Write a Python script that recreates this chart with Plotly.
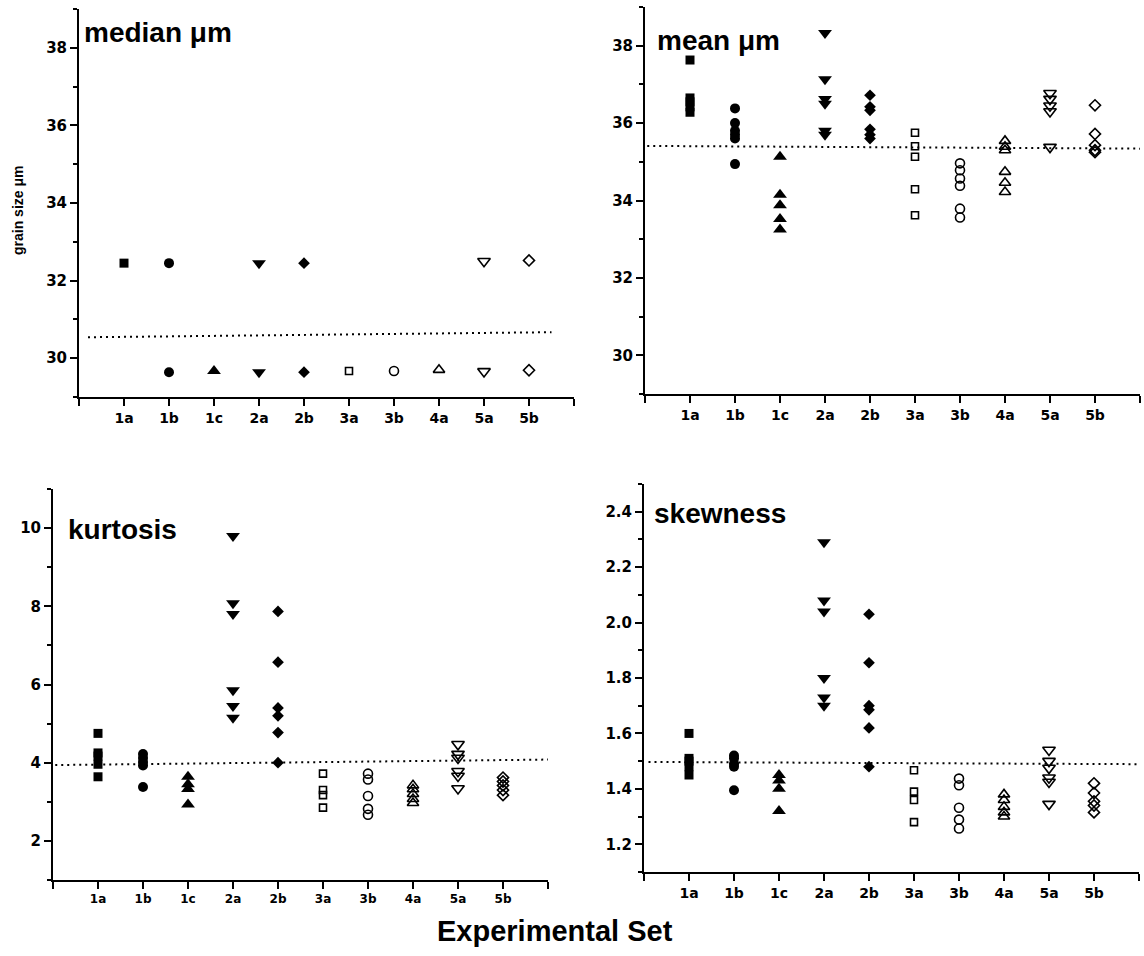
import plotly.graph_objects as go

categories = ["1a", "1b", "1c", "2a", "2b", "3a", "3b", "4a", "5a", "5b"]
symbols = ["square", "circle", "triangle-up", "triangle-down", "diamond",
           "square-open", "circle-open", "triangle-up-open", "triangle-down-open", "diamond-open"]

median_values = [
    [32.45], [32.45, 29.64], [29.67], [32.45, 29.64], [32.45, 29.64],
    [29.67], [29.67], [29.70], [32.50, 29.66], [32.52, 29.69]]
mean_values = [
    [37.63, 36.65, 36.55, 36.42, 36.28],
    [36.38, 36.00, 35.80, 35.70, 35.60, 34.94],
    [35.13, 34.15, 33.88, 33.52, 33.25],
    [38.33, 37.13, 36.62, 36.50, 35.80, 35.70],
    [36.72, 36.42, 36.33, 35.84, 35.70, 35.60],
    [35.75, 35.40, 35.13, 34.29, 33.62],
    [34.96, 34.78, 34.57, 34.38, 33.79, 33.56],
    [35.54, 35.39, 35.30, 34.74, 34.46, 34.22],
    [36.77, 36.62, 36.45, 36.30, 35.38],
    [36.46, 35.72, 35.43, 35.30, 35.25]]
kurtosis_values = [
    [4.75, 4.25, 4.17, 3.96, 3.64],
    [4.22, 4.12, 4.02, 3.93, 3.38],
    [3.64, 3.45, 3.33, 2.93],
    [9.80, 8.08, 7.80, 5.85, 5.45, 5.15],
    [7.87, 6.57, 5.40, 5.20, 4.77, 4.00],
    [3.72, 3.30, 3.17, 2.85],
    [3.72, 3.57, 3.15, 2.82, 2.67],
    [3.42, 3.32, 3.20, 3.07, 2.97],
    [4.47, 4.22, 4.12, 3.78, 3.66, 3.34],
    [3.62, 3.52, 3.42, 3.30, 3.17]]
skewness_values = [
    [1.60, 1.51, 1.50, 1.48, 1.45],
    [1.52, 1.51, 1.49, 1.48, 1.395],
    [1.45, 1.43, 1.40, 1.32],
    [2.29, 2.08, 2.04, 1.80, 1.73, 1.70],
    [2.03, 1.855, 1.70, 1.685, 1.62, 1.48],
    [1.467, 1.39, 1.36, 1.28],
    [1.437, 1.413, 1.332, 1.289, 1.257],
    [1.38, 1.36, 1.335, 1.315, 1.30],
    [1.54, 1.50, 1.475, 1.44, 1.425, 1.345],
    [1.42, 1.385, 1.355, 1.34, 1.315]]

# reference (dotted) lines: x in category units, y values at ends
median_line_x = [0.2, 10.5]
median_line_y = [30.54, 30.67]
mean_line_x = [0.05, 11.0]
mean_line_y = [35.41, 35.34]
kurtosis_line_x = [0.05, 11.0]
kurtosis_line_y = [3.94, 4.08]
skewness_line_x = [0.1, 11.0]
skewness_line_y = [1.497, 1.489]

panel_titles = ["median \u03bcm", "mean \u03bcm", "kurtosis", "skewness"]
y_ranges = [[29, 39], [29, 39], [1, 11], [1.1, 2.5]]
y_dticks = [2, 2, 2, 0.2]
y_minor = [1, 1, 1, 0.1]

W, H = 1144, 956
# pixel boxes (left, right, top, bottom)
boxes = [(79, 574, 9, 397), (645, 1140, 7, 394), (53, 548, 489, 880), (644, 1139, 484, 872)]

fig = go.Figure()
panels = [median_values, mean_values, kurtosis_values, skewness_values]
lines = [(median_line_x, median_line_y), (mean_line_x, mean_line_y),
         (kurtosis_line_x, kurtosis_line_y), (skewness_line_x, skewness_line_y)]

marker_sizes = {"square": 9, "circle": 10, "triangle-up": 12, "triangle-down": 12, "diamond": 9,
                "square-open": 7, "circle-open": 9, "triangle-up-open": 10,
                "triangle-down-open": 11, "diamond-open": 8.5}

for p, vals in enumerate(panels):
    ax = "" if p == 0 else str(p + 1)
    for i, cat in enumerate(categories):
        ys = vals[i]
        sym = symbols[i]
        openm = sym.endswith("open")
        fig.add_trace(go.Scatter(
            x=[i + 1] * len(ys), y=ys, mode="markers", name=cat, showlegend=False,
            xaxis="x" + ax, yaxis="y" + ax, cliponaxis=False,
            marker=dict(symbol=sym, size=marker_sizes[sym], color="black",
                        line=dict(color="black", width=1.6 if openm else 0))))
    lx, ly = lines[p]
    fig.add_trace(go.Scatter(x=lx, y=ly, mode="lines", showlegend=False,
                             xaxis="x" + ax, yaxis="y" + ax,
                             line=dict(color="black", width=2, dash="2px,4px")))

tickfont = dict(family="DejaVu Sans", size=15, color="black", weight="bold")
layout = dict(width=W, height=H, margin=dict(l=0, r=0, t=0, b=0),
              paper_bgcolor="white", plot_bgcolor="white", showlegend=False)

for p in range(4):
    l, r, t, b = boxes[p]
    ax = "" if p == 0 else str(p + 1)
    xf = dict(tickfont, size=12) if p == 2 else dict(tickfont, size=14)
    layout["xaxis" + ax] = dict(
        domain=[l / W, r / W], anchor="y" + ax, range=[0, 11],
        tickvals=list(range(0, 12)), ticktext=[""] + categories + [""],
        ticks="outside", ticklen=7, tickwidth=2, tickcolor="black",
        showline=True, linewidth=2, linecolor="black", showgrid=False, zeroline=False,
        tickfont=xf, fixedrange=True)
    layout["yaxis" + ax] = dict(
        domain=[1 - b / H, 1 - t / H], anchor="x" + ax, range=y_ranges[p],
        dtick=y_dticks[p], tick0=0, ticks="outside", ticklen=7, tickwidth=2, tickcolor="black",
        minor=dict(dtick=y_minor[p], tick0=0, ticks="outside", ticklen=4, tickwidth=1.5,
                   tickcolor="black"),
        showline=True, linewidth=2, linecolor="black", showgrid=False, zeroline=False,
        tickfont=tickfont, fixedrange=True,
        tickformat=".1f" if p == 3 else "d")

title_pos = [(82, 33), (655, 41), (66, 529), (652, 513)]
annotations = []
for p in range(4):
    x, y = title_pos[p]
    annotations.append(dict(text=panel_titles[p], xref="paper", yref="paper",
                            x=x / W, y=1 - y / H, xanchor="left", yanchor="middle",
                            showarrow=False,
                            font=dict(family="Liberation Sans, Arial", size=28, color="black",
                                      weight="bold")))
annotations.append(dict(text="grain size \u03bcm", xref="paper", yref="paper",
                        x=18 / W, y=1 - 211 / H, xanchor="center", yanchor="middle",
                        textangle=-90, showarrow=False,
                        font=dict(family="Liberation Sans, Arial", size=14, color="black",
                                  weight="bold")))
annotations.append(dict(text="Experimental Set", xref="paper", yref="paper",
                        x=555 / W, y=1 - 931 / H, xanchor="center", yanchor="middle",
                        showarrow=False,
                        font=dict(family="Liberation Sans, Arial", size=29, color="black",
                                  weight="bold")))
layout["annotations"] = annotations

fig.update_layout(**layout)
fig.write_html("out.html")
